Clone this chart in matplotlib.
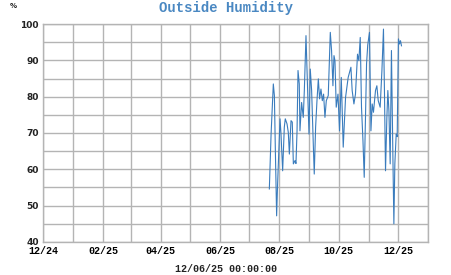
import datetime as dt

import matplotlib
matplotlib.use('Agg')
import matplotlib.pyplot as plt
import matplotlib.dates as mdates
from matplotlib.ticker import MultipleLocator

# days after 2024-12-01 and outside humidity (%)
start = dt.datetime(2024, 12, 1)
day_offset = [232.8, 234.6, 236.9, 238.0, 239.0, 240.3, 241.3, 243.8, 244.8, 246.5,
              248.2, 249.2, 251.0, 252.3, 253.4, 255.1, 256.4, 257.5, 259.2, 260.2,
              261.3, 262.3, 263.6, 264.3, 266.0, 267.7, 268.8, 270.5, 272.2, 273.6,
              274.9, 276.3, 278.0, 279.0, 280.4, 281.8, 283.2, 284.5, 285.9, 287.3,
              288.6, 290.0, 291.4, 293.4, 295.5, 296.8, 298.2, 299.3, 300.3, 301.6,
              303.4, 305.0, 306.8, 308.8, 311.2, 313.9, 316.7, 318.0, 319.8, 321.4,
              323.5, 324.9, 326.3, 327.6, 329.1, 330.4, 331.7, 332.8, 334.0, 335.8,
              337.3, 338.6, 339.9, 342.0, 343.4, 344.8, 346.8, 348.6, 350.2, 351.2,
              352.3, 353.7, 354.7, 355.8, 357.1, 358.4, 359.9, 360.9, 361.9, 363.3,
              364.3, 365.6, 366.7, 367.7, 368.7]
humidity = [54.6, 69.7, 83.5, 80.3, 65.1, 47.2, 56.0, 73.9, 69.7, 59.6,
            71.6, 73.9, 72.5, 70.2, 64.2, 73.4, 73.0, 61.5, 62.4, 61.6,
            70.6, 87.2, 83.5, 70.6, 78.4, 74.3, 81.7, 96.8, 81.7, 69.7,
            87.6, 81.7, 67.0, 58.7, 71.6, 78.9, 84.9, 79.4, 82.1, 78.9,
            80.7, 74.3, 78.9, 80.3, 97.7, 92.7, 83.0, 91.3, 89.9, 77.1,
            80.7, 70.6, 85.3, 66.1, 79.8, 85.3, 88.1, 81.7, 78.0, 80.7,
            91.7, 89.9, 96.3, 77.1, 67.9, 57.8, 74.3, 89.0, 94.2, 97.7,
            70.6, 78.0, 75.7, 81.7, 83.0, 78.9, 77.1, 87.2, 98.6, 81.7,
            59.6, 74.3, 81.7, 76.1, 61.5, 92.7, 63.3, 45.0, 61.5, 69.7,
            69.0, 95.9, 94.5, 95.4, 94.0]
dates = [start + dt.timedelta(days=d) for d in day_offset]

x_min = dt.datetime(2024, 12, 1)
x_max = dt.datetime(2026, 1, 1)
y_min, y_max = 40, 100
title = 'Outside Humidity'
x_caption = '12/06/25 00:00:00'

line_color = '#3a7cbd'
grid_color = '#b4b4b4'

fig = plt.figure(figsize=(4.51, 2.75), dpi=100)
ax = fig.add_axes([43 / 451, 1 - 242 / 275, 385 / 451, 218 / 275])

ax.plot(dates, humidity, color=line_color, linewidth=0.8)

ax.set_xlim(x_min, x_max)
ax.set_ylim(y_min, y_max)

ax.xaxis.set_major_locator(mdates.MonthLocator(bymonth=[2, 4, 6, 8, 10, 12]))
ax.xaxis.set_minor_locator(mdates.MonthLocator())
ax.xaxis.set_major_formatter(mdates.DateFormatter('%m/%y'))
ax.yaxis.set_major_locator(MultipleLocator(10))
ax.yaxis.set_minor_locator(MultipleLocator(5))

ax.grid(True, which='both', color=grid_color, linewidth=1.0)
ax.set_axisbelow(True)
for s in ax.spines.values():
    s.set_color(grid_color)
    s.set_linewidth(1.0)

ax.tick_params(which='both', length=0)
ax.tick_params(axis='x', pad=3)
ax.tick_params(axis='y', pad=3)
for lab in ax.get_xticklabels():
    lab.set_fontfamily('Liberation Mono')
    lab.set_fontweight('bold')
    lab.set_fontsize(7.2)
for lab in ax.get_yticklabels():
    lab.set_fontfamily('DejaVu Sans')
    lab.set_fontweight('bold')
    lab.set_fontsize(6.5)
    lab.set_color('#222222')

fig.text(226 / 451, 1 - 8 / 275, title, ha='center', va='center',
         family='Liberation Mono', weight='bold', fontsize=10, color='#4a88c2')
fig.text(226 / 451, 1 - 269 / 275, x_caption, ha='center', va='center',
         family='Liberation Mono', weight='bold', fontsize=7.2, color='#222222')
fig.text(13 / 451, 1 - 6 / 275, '%', ha='center', va='center',
         family='DejaVu Sans', weight='bold', fontsize=5, color='#222222')

fig.savefig('out.png', dpi=100)
